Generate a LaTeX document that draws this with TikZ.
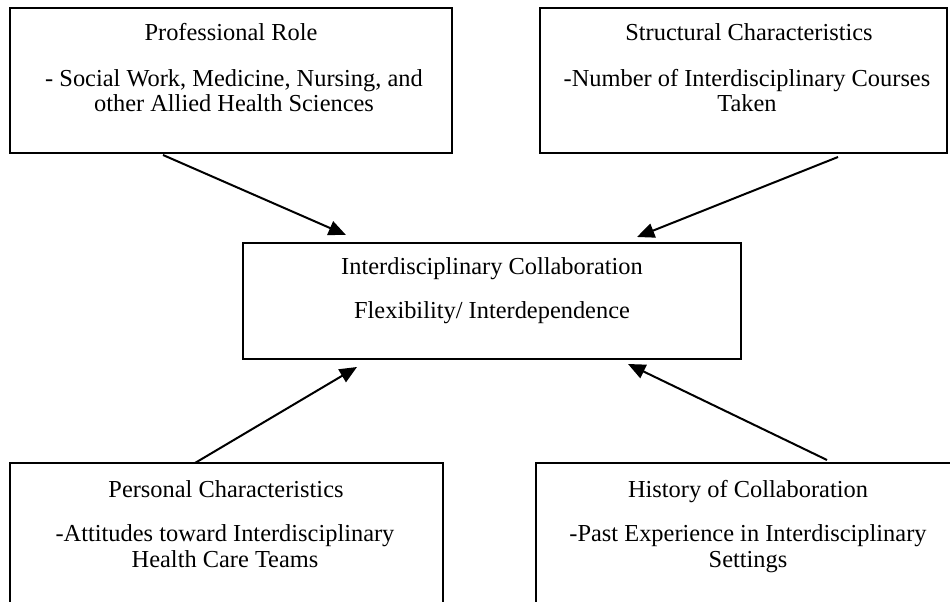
\documentclass[tikz,border=0pt]{standalone}
\usepackage{fontspec}
\setmainfont{Liberation Serif}
\usetikzlibrary{arrows.meta}
\begin{document}
\begin{tikzpicture}[x=0.75pt,y=-0.75pt,
  box/.style={draw=black,line width=1.3pt,rectangle,inner sep=0pt,outer sep=0pt},
  txt/.style={inner sep=0pt,outer sep=0pt,anchor=base,align=center,font=\fontsize{18.3}{19.3}\selectfont},
  arr/.style={line width=1.5pt,-{Triangle[length=13pt,width=11pt]}}]
\useasboundingbox (0,0) rectangle (950,602);
\clip (0,0) rectangle (950,602);
% boxes
\node[box,minimum width=331.5pt,minimum height=108.75pt] (tl) at (231,80.5) {};
\node[box,minimum width=305.25pt,minimum height=108.75pt] (tr) at (743.5,80.5) {};
\node[box,minimum width=373.5pt,minimum height=87pt] (c) at (492,301) {};
\node[box,minimum width=324.75pt,minimum height=132.75pt] (bl) at (226.5,551.5) {};
\node[box,minimum width=318pt,minimum height=132.75pt] (br) at (748,551.5) {};
% texts (multi-line nodes are anchored at the base of their last line)
\node[txt] (tlt) at (231,41) {Professional Role};
\node[txt] (tlb) at (234,112) {- Social Work, Medicine, Nursing, and\\other Allied Health Sciences};
\node[txt] (trt) at (749,41) {Structural Characteristics};
\node[txt] (trb) at (747,112) {-Number of Interdisciplinary Courses\\Taken};
\node[txt] (ct) at (492,275) {Interdisciplinary Collaboration};
\node[txt] (cb) at (492,319) {Flexibility/ Interdependence};
\node[txt] (blt) at (226,497) {Personal Characteristics};
\node[txt] (blb) at (225,567) {-Attitudes toward Interdisciplinary\\Health Care Teams};
\node[txt] (brt) at (748,497) {History of Collaboration};
\node[txt] (brb) at (748,567) {-Past Experience in Interdisciplinary\\Settings};
% arrow end points
\coordinate (a1s) at (163,155);
\coordinate (a1e) at (346,235);
\coordinate (a2s) at (838,157);
\coordinate (a2e) at (637,237);
\coordinate (a3s) at (195,463);
\coordinate (a3e) at (357,367);
\coordinate (a4s) at (827,460);
\coordinate (a4e) at (628,364);
\draw[arr] (a1s) -- (a1e);
\draw[arr] (a2s) -- (a2e);
\draw[arr] (a3s) -- (a3e);
\draw[arr] (a4s) -- (a4e);
\end{tikzpicture}
\end{document}
